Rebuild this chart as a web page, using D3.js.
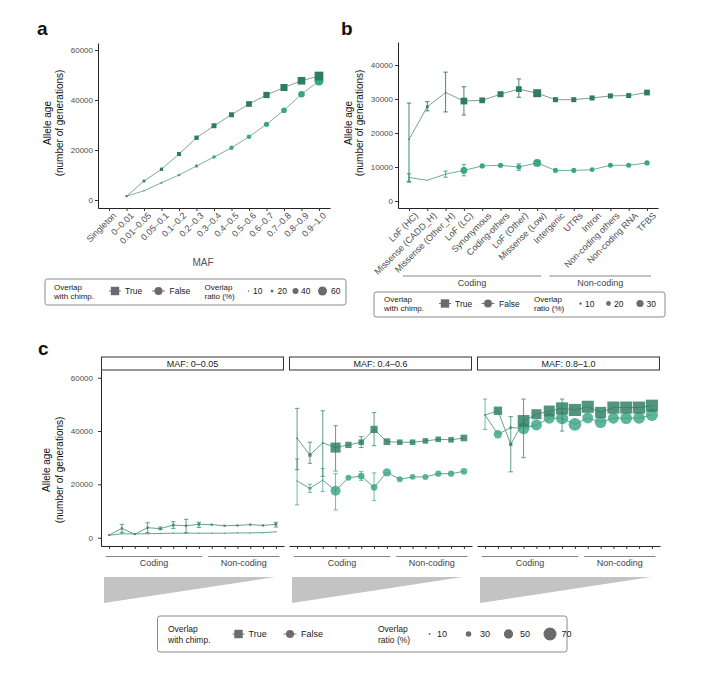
<!DOCTYPE html>
<html><head><meta charset="utf-8">
<script src="https://cdn.jsdelivr.net/npm/d3@7"></script>
<style>body{margin:0;background:#fff} svg{display:block} text{font-family:"Liberation Sans",Arial,Helvetica,sans-serif}</style>
</head><body><svg id="fig" width="705" height="681"></svg>
<script>
// ---------------- DATA ----------------
const mafBins = ["Singleton","0–0.01","0.01–0.05","0.05–0.1","0.1–0.2","0.2–0.3","0.3–0.4","0.4–0.5","0.5–0.6","0.6–0.7","0.7–0.8","0.8–0.9","0.9–1.0"];
const aTrueAge   = [null,1500,7600,12300,18400,24900,29700,34100,38400,42000,45000,47700,49600];
const aFalseAge  = [null,1500,3700,6900,10000,13600,17200,20900,25300,30300,35900,42300,47600];
const aTrueRatio = [null,12,18,22,27,29,33,33,38,42,47,51,58];
const aFalseRatio= [null,12,11,15,18,22,24,29,31,35,38,44,60];
const aSizeLegend = [10,20,40,60];

const funcCats = ["LoF (HC)","Missense (CADD_H)","Missense (Other_H)","LoF (LC)","Synonymous","Coding-others","LoF (Other)","Missense (Low)","Intergenic","UTRs","Intron","Non-coding others","Non-coding RNA","TFBS"];
const funcGroup = ["Coding","Coding","Coding","Coding","Coding","Coding","Coding","Coding","Non-coding","Non-coding","Non-coding","Non-coding","Non-coding","Non-coding"];
const groups = ["Coding","Non-coding"];

const bTrueAge   = [18100,27700,31900,29400,29600,31400,32900,31700,29800,29800,30300,30900,31000,31900];
const bTrueLo    = [5800,26500,26200,25300,null,null,30500,null,null,null,null,null,null,null];
const bTrueHi    = [28800,29200,37900,33600,null,null,35900,null,null,null,null,null,null,null];
const bTrueRatio = [3,11,4,28,24,25,24,33,21,21,21,21,21,24];
const bFalseAge  = [6900,6100,7900,9000,10300,10500,10000,11200,9000,9000,9200,10500,10500,11200];
const bFalseLo   = [5500,null,7000,7400,null,null,9000,null,null,null,null,null,null,null];
const bFalseHi   = [8000,null,8800,10700,null,null,10900,null,null,null,null,null,null,null];
const bFalseRatio= [4,4,5,28,22,22,21,33,21,21,20,21,21,22];
const bSizeLegend = [10,20,30];

const facets = ["MAF: 0–0.05","MAF: 0.4–0.6","MAF: 0.8–1.0"];
const c1TrueAge   = [1000,3500,1300,3750,3400,4750,4500,5000,4900,4500,4600,4900,4600,5000];
const c1TrueLo    = [null,2000,null,1900,3000,3500,1900,3800,null,null,null,null,null,4000];
const c1TrueHi    = [null,5000,null,5600,4000,6000,6900,5800,null,null,null,null,null,5800];
const c1TrueRatio = [10,12,10,12,12,14,12,14,12,12,12,12,12,14];
const c1FalseAge  = [900,1500,1400,1500,1600,1700,1700,1700,1700,1700,1800,1800,1900,2200];
const c1FalseRatio= [8,8,8,8,8,8,8,8,8,8,8,8,8,8];

const c2TrueAge   = [37300,31000,35600,33800,34800,35800,40600,36000,35800,35800,36300,36900,36700,37400];
const c2TrueLo    = [25500,27900,23000,25000,null,33800,34500,null,null,null,null,null,null,null];
const c2TrueHi    = [48500,35800,47600,42000,null,37900,46900,null,null,null,null,null,null,null];
const c2TrueRatio = [8,18,8,54,34,30,39,36,30,30,30,30,30,36];
const c2FalseAge  = [21300,18500,21600,17600,22500,23100,18900,24500,21900,22800,22800,24000,24000,24900];
const c2FalseLo   = [12300,17000,17300,10400,null,21500,13900,null,null,null,null,null,null,null];
const c2FalseHi   = [29500,20000,26000,24000,null,24800,24300,null,null,null,null,null,null,null];
const c2FalseRatio= [8,18,8,54,32,36,36,45,32,30,32,34,34,36];

const c3TrueAge   = [46000,47600,35000,43800,46300,47500,48500,47900,49100,47000,48800,48800,48800,49500];
const c3TrueLo    = [null,null,24700,30000,null,null,40000,null,null,null,null,null,null,null];
const c3TrueHi    = [null,null,45400,52000,null,null,52000,null,null,null,null,null,null,null];
const c3TrueRatio = [8,45,18,63,54,59,65,65,65,59,65,65,65,65];
const c3FalseAge  = [46000,38800,41300,41000,42300,44800,44800,42500,44900,43300,44800,44800,44900,46000];
const c3FalseLo   = [40600,null,null,null,null,null,null,null,null,null,null,null,null,null];
const c3FalseHi   = [52000,null,null,null,null,null,null,null,null,null,null,null,null,null];
const c3FalseRatio= [8,45,18,63,59,59,65,68,59,63,59,63,63,65];
const cSizeLegend = [10,30,50,70];

const yTicksA = [0,20000,40000,60000];
const yTicksB = [0,10000,20000,30000,40000];
const yTicksC = [0,20000,40000,60000];

// ---------------- STYLE ----------------
const COL_T = "#2d7d61", COL_F = "#3ba585";
const TICK_COL = "#4d4d4d";
const svg = d3.select("#fig");
const fmt = d3.format("d");

function mk(cats, ages, lo, hi, ratio){
  return cats.map((c,i)=>({c, v:ages[i], lo:lo?lo[i]:null, hi:hi?hi[i]:null, r:ratio[i]}));
}

function drawSeries(g, x, y, data, rOf, shape, color, lineColor, op){
  g.append("path").datum(data).attr("fill","none").attr("stroke",lineColor).attr("stroke-width",0.9)
    .attr("d", d3.line().defined(d=>d.v!=null).x(d=>x(d.c)).y(d=>y(d.v)));
  const eb = data.filter(d=>d.lo!=null && d.v!=null);
  const eg = g.append("g").attr("stroke",color).attr("stroke-width",0.9).attr("opacity",op);
  eg.selectAll(null).data(eb).join("line")
    .attr("x1",d=>x(d.c)).attr("x2",d=>x(d.c)).attr("y1",d=>y(d.lo)).attr("y2",d=>y(d.hi));
  ["lo","hi"].forEach(k=>{
    eg.selectAll(null).data(eb).join("line")
      .attr("x1",d=>x(d.c)-2.2).attr("x2",d=>x(d.c)+2.2).attr("y1",d=>y(d[k])).attr("y2",d=>y(d[k]));
  });
  const pts = data.filter(d=>d.v!=null);
  if(shape==="square"){
    g.selectAll(null).data(pts).join("rect")
      .attr("x",d=>x(d.c)-rOf(d.r)).attr("y",d=>y(d.v)-rOf(d.r))
      .attr("width",d=>2*rOf(d.r)).attr("height",d=>2*rOf(d.r))
      .attr("fill",color).attr("opacity",op);
  } else {
    g.selectAll(null).data(pts).join("circle")
      .attr("cx",d=>x(d.c)).attr("cy",d=>y(d.v)).attr("r",d=>rOf(d.r))
      .attr("fill",color).attr("opacity",op);
  }
}

function styleAxis(sel, fs){
  sel.selectAll(".domain").attr("stroke","#222").attr("stroke-width",1);
  sel.selectAll(".tick line").attr("stroke","#333");
  sel.selectAll(".tick text").attr("fill",TICK_COL).attr("font-size",fs||8).attr("font-family",'"Liberation Sans",Arial,sans-serif');
}

function yTitle(x1, x2, cy){
  svg.append("text").attr("transform",`translate(${x1},${cy}) rotate(-90)`).attr("text-anchor","middle")
    .attr("dy","0.35em").attr("font-size",10).attr("fill","#111").text("Allele age");
  svg.append("text").attr("transform",`translate(${x2},${cy}) rotate(-90)`).attr("text-anchor","middle")
    .attr("dy","0.35em").attr("font-size",10).attr("fill","#111").text("(number of generations)");
}

function panelLabel(t, x, y){
  svg.append("text").attr("x",x).attr("y",y).attr("font-size",19).attr("font-weight","bold").attr("fill","#111").text(t);
}

function legend(o){
  const g = svg.append("g");
  g.append("rect").attr("x",o.x0).attr("y",o.y0).attr("width",o.x1-o.x0).attr("height",o.y1-o.y0)
    .attr("rx",2.5).attr("fill","#fff").attr("stroke","#8a8a8a").attr("stroke-width",1);
  const two = (x, a, b) => {
    g.append("text").attr("x",x).attr("y",o.l1).attr("font-size",o.fs).attr("fill","#222").text(a);
    g.append("text").attr("x",x).attr("y",o.l2).attr("font-size",o.fs).attr("fill","#222").text(b);
  };
  two(o.tx, "Overlap", "with chimp.");
  const cy = o.cy;
  g.append("line").attr("x1",o.sqx-6).attr("x2",o.sqx+6).attr("y1",cy).attr("y2",cy).attr("stroke","#777").attr("stroke-width",1);
  g.append("rect").attr("x",o.sqx-4.2).attr("y",cy-4.2).attr("width",8.4).attr("height",8.4).attr("fill","#6b6b6b");
  g.append("text").attr("x",o.sqx+10).attr("y",cy+3).attr("font-size",o.fs+0.5).attr("fill","#222").text("True");
  g.append("line").attr("x1",o.cix-6.5).attr("x2",o.cix+6.5).attr("y1",cy).attr("y2",cy).attr("stroke","#777").attr("stroke-width",1);
  g.append("circle").attr("cx",o.cix).attr("cy",cy).attr("r",4).attr("fill","#6b6b6b");
  g.append("text").attr("x",o.cix+11).attr("y",cy+3).attr("font-size",o.fs+0.5).attr("fill","#222").text("False");
  two(o.rx, "Overlap", "ratio (%)");
  o.sizes.forEach((v,i)=>{
    g.append("circle").attr("cx",o.dx[i]).attr("cy",cy).attr("r",o.rOf(v)).attr("fill","#6b6b6b");
    g.append("text").attr("x",o.lx[i]).attr("y",cy+3).attr("font-size",o.fs+0.5).attr("fill","#222").text(v);
  });
}

// ---------------- PANEL A ----------------
{
  const x = d3.scalePoint().domain(mafBins).range([98,330]).padding(0.63);
  const y = d3.scaleLinear().domain([-3200,62800]).range([208,43]);
  const rOf = v => Math.max(0.6, v*0.075);
  const g = svg.append("g");
  const ya = g.append("g").attr("transform","translate(98,0)").call(d3.axisLeft(y).tickValues(yTicksA).tickFormat(fmt).tickSize(3).tickPadding(2).tickSizeOuter(0));
  styleAxis(ya);
  const xa = g.append("g").attr("transform","translate(0,208)").call(d3.axisBottom(x).tickSize(3).tickSizeOuter(0));
  styleAxis(xa, 9);
  xa.selectAll(".tick text").attr("text-anchor","end").attr("transform","translate(5,6) rotate(-45)").attr("dy","0.35em").attr("y",0).attr("x",0);
  drawSeries(g, x, y, mk(mafBins,aFalseAge,null,null,aFalseRatio), rOf, "circle", COL_F, "#74a596", 1);
  drawSeries(g, x, y, mk(mafBins,aTrueAge,null,null,aTrueRatio), rOf, "square", COL_T, "#6f9c8e", 1);
  yTitle(47, 59, 123);
  panelLabel("a", 37, 35);
  svg.append("text").attr("x",203).attr("y",266).attr("text-anchor","middle").attr("font-size",10).attr("fill","#555").text("MAF");
  legend({x0:45,x1:346,y0:279,y1:305,fs:8,l1:289.5,l2:298.5,tx:54,cy:291,sqx:115,cix:158.5,rx:204.5,
          sizes:aSizeLegend,dx:[248.5,272,295.5,322.5],lx:[253,277.5,301,331],rOf});
}

// ---------------- PANEL B ----------------
{
  const x = d3.scalePoint().domain(funcCats).range([398,658]).padding(0.6);
  const y = d3.scaleLinear().domain([-2060,46760]).range([208,42]);
  const rOf = v => Math.max(0.6, v*0.12);
  const g = svg.append("g");
  const ya = g.append("g").attr("transform","translate(398,0)").call(d3.axisLeft(y).tickValues(yTicksB).tickFormat(fmt).tickSize(3).tickPadding(2).tickSizeOuter(0));
  styleAxis(ya);
  const xa = g.append("g").attr("transform","translate(0,208)").call(d3.axisBottom(x).tickSize(3).tickSizeOuter(0));
  styleAxis(xa, 9);
  xa.selectAll(".tick text").attr("text-anchor","end").attr("transform","translate(7,6) rotate(-45)").attr("dy","0.35em").attr("y",0).attr("x",0);
  drawSeries(g, x, y, mk(funcCats,bFalseAge,bFalseLo,bFalseHi,bFalseRatio), rOf, "circle", COL_F, "#5fa58f", 1);
  drawSeries(g, x, y, mk(funcCats,bTrueAge,bTrueLo,bTrueHi,bTrueRatio), rOf, "square", COL_T, "#6d9488", 1);
  yTitle(348, 359, 123);
  panelLabel("b", 341, 35);
  groups.forEach(gr=>{
    const cs = funcCats.filter((c,i)=>funcGroup[i]===gr);
    const x0 = x(cs[0])-6, x1 = x(cs[cs.length-1])+4;
    svg.append("line").attr("x1",x0).attr("x2",x1).attr("y1",276).attr("y2",276).attr("stroke","#777").attr("stroke-width",0.9);
    svg.append("text").attr("x",(x0+x1)/2).attr("y",285.5).attr("text-anchor","middle").attr("font-size",9).attr("fill","#444").text(gr);
  });
  legend({x0:374,x1:665,y0:292,y1:317,fs:8,l1:302,l2:311,tx:384,cy:303.5,sqx:445,cix:488,rx:534,
          sizes:bSizeLegend,dx:[580.5,608.5,640],lx:[585,614,646.5],rOf});
}

// ---------------- PANEL C ----------------
{
  const y = d3.scaleLinear().domain([-3110,62890]).range([546,370]);
  const rOf = v => Math.max(0.6, v*0.093);
  const lefts = [101,289,477], W = 183;
  const facetData = [
    [mk(funcCats,c1TrueAge,c1TrueLo,c1TrueHi,c1TrueRatio), mk(funcCats,c1FalseAge,null,null,c1FalseRatio)],
    [mk(funcCats,c2TrueAge,c2TrueLo,c2TrueHi,c2TrueRatio), mk(funcCats,c2FalseAge,c2FalseLo,c2FalseHi,c2FalseRatio)],
    [mk(funcCats,c3TrueAge,c3TrueLo,c3TrueHi,c3TrueRatio), mk(funcCats,c3FalseAge,c3FalseLo,c3FalseHi,c3FalseRatio)]
  ];
  facets.forEach((f,k)=>{
    const L = lefts[k];
    const x = d3.scalePoint().domain(funcCats).range([L, L+W]).padding(0.63);
    const g = svg.append("g");
    g.append("rect").attr("x",L+0.5).attr("y",357).attr("width",W-1).attr("height",13).attr("fill","#fff").attr("stroke","#333").attr("stroke-width",1);
    g.append("text").attr("x",L+W/2).attr("y",366.8).attr("text-anchor","middle").attr("font-size",9).attr("fill","#222").text(f);
    if(k===0){
      const ya = g.append("g").attr("transform",`translate(${L},0)`).call(d3.axisLeft(y).tickValues(yTicksC).tickFormat(fmt).tickSize(3).tickPadding(5).tickSizeOuter(0));
      styleAxis(ya);
    }
    const xa = g.append("g").attr("transform","translate(0,546)").call(d3.axisBottom(x).tickSize(3).tickSizeOuter(0).tickFormat(""));
    styleAxis(xa);
    const [dT, dF] = facetData[k];
    drawSeries(g, x, y, dF, rOf, "circle", COL_F, "#4f9a82", 0.82);
    drawSeries(g, x, y, dT, rOf, "square", COL_T, "#4f9a82", 0.82);
    groups.forEach(gr=>{
      const cs = funcCats.filter((c,i)=>funcGroup[i]===gr);
      const x0 = x(cs[0])-3.5, x1 = x(cs[cs.length-1])+3.5;
      svg.append("line").attr("x1",x0).attr("x2",x1).attr("y1",556.5).attr("y2",556.5).attr("stroke","#777").attr("stroke-width",0.9);
      svg.append("text").attr("x",(x0+x1)/2).attr("y",566).attr("text-anchor","middle").attr("font-size",9).attr("fill","#444").text(gr);
    });
    const tx0 = L+3, tx1 = L+W-9;
    g.append("path").attr("d",`M${tx0},577 L${tx1},577 L${tx0},603 Z`).attr("fill","#c3c3c3");
  });
  yTitle(46.5, 59, 470);
  panelLabel("c", 38, 355);
  legend({x0:157.5,x1:567,y0:616,y1:652,fs:8.5,l1:631.5,l2:643,tx:168,cy:634,sqx:238.5,cix:290,rx:378,
          sizes:cSizeLegend,dx:[429.5,468.5,508.5,550],lx:[437,480,520,561.5],rOf});
}
</script></body></html>
